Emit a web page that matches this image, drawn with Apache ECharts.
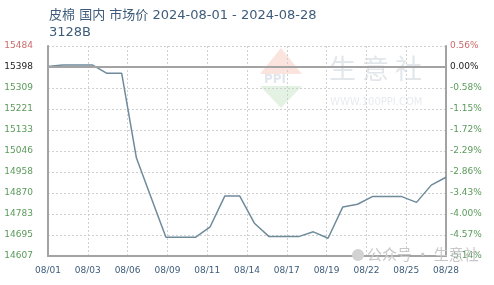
<!DOCTYPE html>
<html><head><meta charset="utf-8">
<script src="https://cdn.jsdelivr.net/npm/echarts@6/dist/echarts.min.js"></script>
<style>html,body{margin:0;padding:0;background:#fff}#c{width:494px;height:285px}</style>
</head><body><div id="c"></div>
<script>
// Daily dates 08/01 .. 08/28
var dates = ['08/01','08/02','08/03','08/04','08/05','08/06','08/07','08/08','08/09','08/10',
  '08/11','08/12','08/13','08/14','08/15','08/16','08/17','08/18','08/19','08/20',
  '08/21','08/22','08/23','08/24','08/25','08/26','08/27','08/28'];
var prices = [15398,15405,15405,15405,15370,15370,15016,14850,14685,14685,
  14685,14729,14858,14858,14744,14688,14688,14688,14708,14681,
  14812,14823,14855,14855,14855,14831,14903,14936];
var xLabels = ['08/01','08/03','08/06','08/09','08/11','08/14','08/17','08/19','08/22','08/25','08/28'];
var priceLabels = [15484,15398,15309,15221,15133,15046,14958,14870,14783,14695,14607];
var pctLabels = ['0.56%','0.00%','-0.58%','-1.15%','-1.72%','-2.29%','-2.86%','-3.43%','-4.00%','-4.57%','-5.14%'];
var basePrice = 15398;

var FONT = '"DejaVu Sans", "Noto Sans CJK SC", sans-serif';
var richStyles = {
  r: {color: '#cc6b6b', fontSize: 9, fontFamily: FONT},
  k: {color: '#222222', fontSize: 9, fontFamily: FONT},
  g: {color: '#5a9a5a', fontSize: 9, fontFamily: FONT}
};
function styleKey(i){ return i === 0 ? 'r' : (i === 1 ? 'k' : 'g'); }
var xStep = (dates.length - 1) / (xLabels.length - 1);

var chart = echarts.init(document.getElementById('c'), null, {renderer: 'canvas'});
chart.setOption({
  animation: false,
  backgroundColor: '#ffffff',
  title: {
    text: '皮棉 国内 市场价 2024-08-01 - 2024-08-28',
    subtext: '3128B',
    left: 44, top: 4, itemGap: 4,
    textStyle: {fontSize: 13, fontWeight: 'normal', color: '#3e5c7a', fontFamily: FONT},
    subtextStyle: {fontSize: 13, color: '#3e5c7a', fontFamily: FONT}
  },
  graphic: [
    {type: 'polygon', z: -10, shape: {points: [[281,48],[302,74],[260,74]]}, style: {fill: '#fbe4de'}},
    {type: 'polygon', z: -10, shape: {points: [[260,86],[302,86],[281,108]]}, style: {fill: '#e4f2e4'}},
    {type: 'text', z: -10, left: 264, top: 74, style: {text: 'PPI', fontSize: 12, fontWeight: 'bold', fill: '#e0e6ec', fontFamily: FONT}},
    {type: 'text', z: -10, left: 329, top: 55, style: {text: '生 意 社', fontSize: 27, fill: '#e2e7eb', fontFamily: '"Noto Sans CJK SC"'}},
    {type: 'text', z: -10, left: 330, top: 97, style: {text: 'WWW.100PPI.COM', fontSize: 10, fill: '#e8ebee', fontFamily: FONT}},
    {type: 'circle', z: 50, shape: {cx: 358, cy: 255, r: 6}, style: {fill: '#d2d2d2'}},
    {type: 'text', z: 50, left: 367, top: 247, style: {text: '公众号 · 生意社', fontSize: 15, fill: '#c8c8c8', fontFamily: '"Noto Sans CJK SC"'}}
  ],
  grid: {left: 48, right: 48, top: 46, bottom: 29, containLabel: false},
  xAxis: {
    type: 'value', min: 0, max: dates.length - 1, interval: xStep,
    axisLine: {show: true, lineStyle: {color: '#a3a3a3', width: 2}},
    axisTick: {show: false},
    splitLine: {show: true, lineStyle: {color: '#cfcfcf', type: [2, 2], width: 1}},
    axisLabel: {
      margin: 10, fontSize: 9, color: '#3e5c7a', fontFamily: FONT,
      showMinLabel: true, showMaxLabel: true,
      formatter: function (v) { return xLabels[Math.round(v / xStep)] || ''; }
    }
  },
  yAxis: [{
    type: 'value', position: 'left', min: priceLabels[priceLabels.length - 1], max: priceLabels[0],
    axisLine: {show: true, lineStyle: {color: '#a3a3a3', width: 2}},
    axisTick: {show: false, customValues: priceLabels},
    splitLine: {show: true, lineStyle: {color: '#cfcfcf', type: [2, 2], width: 1}},
    axisLabel: {
      customValues: priceLabels, margin: 15, align: 'right', rich: richStyles,
      formatter: function (v) { var i = priceLabels.indexOf(v); return '{' + styleKey(i) + '|' + v + '}'; }
    }
  }, {
    type: 'value', position: 'right', min: priceLabels[priceLabels.length - 1], max: priceLabels[0],
    axisLine: {show: true, lineStyle: {color: '#a3a3a3', width: 2}},
    axisTick: {show: false, customValues: priceLabels},
    splitLine: {show: false},
    axisLabel: {
      customValues: priceLabels, margin: 4, align: 'left', rich: richStyles,
      formatter: function (v) { var i = priceLabels.indexOf(v); return '{' + styleKey(i) + '|' + pctLabels[i] + '}'; }
    }
  }],
  series: [{
    type: 'line', yAxisIndex: 0,
    data: prices.map(function (p, i) { return [i, p]; }),
    symbol: 'none', smooth: false,
    lineStyle: {color: '#6f8b9b', width: 1.5},
    markLine: {
      silent: true, symbol: 'none', label: {show: false},
      lineStyle: {color: '#a3a3a3', type: 'solid', width: 2},
      data: [{yAxis: basePrice}]
    },
    z: 3
  }]
});
</script></body></html>
